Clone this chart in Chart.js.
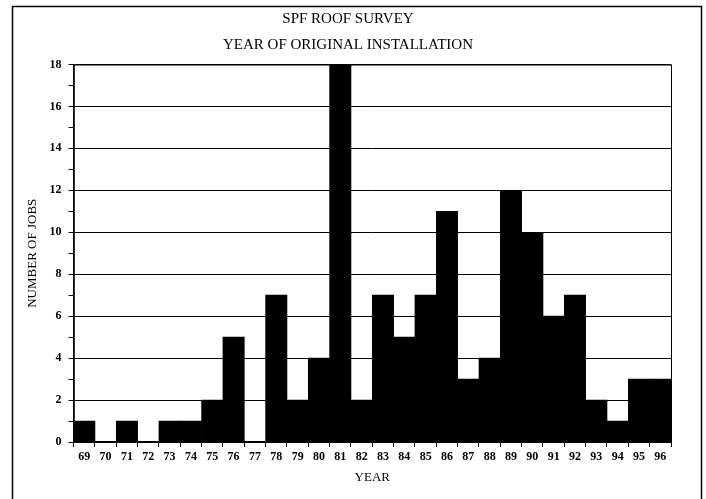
<!DOCTYPE html>
<html lang="en">
<head>
    <meta charset="UTF-8">
    <title>SPF Roof Survey</title>
    <script src="https://cdn.jsdelivr.net/npm/chart.js"></script>
    <style>
        html, body { margin: 0; padding: 0; background: #fff; }
        #wrap { width: 706px; height: 499px; position: relative; }
    </style>
</head>
<body>
    <div id="wrap"><canvas id="roofChart"></canvas></div>
    <script>
        // Survey data
        const years = ['69', '70', '71', '72', '73', '74', '75', '76', '77', '78', '79', '80', '81', '82',
                       '83', '84', '85', '86', '87', '88', '89', '90', '91', '92', '93', '94', '95', '96'];
        const jobs = [1, 0, 1, 0, 1, 1, 2, 5, 0, 7, 2, 4, 18, 2,
                      7, 5, 7, 11, 3, 4, 12, 10, 6, 7, 2, 1, 3, 3];
        const titleLines = ['SPF ROOF SURVEY', 'YEAR OF ORIGINAL INSTALLATION'];

        const serif = '"Liberation Serif", "DejaVu Serif", serif';

        // outer frame and plot box
        const framePlugin = {
            id: 'frame',
            afterDraw(chart) {
                const ctx = chart.ctx;
                const a = chart.chartArea;
                ctx.save();
                ctx.strokeStyle = '#000';
                ctx.lineWidth = 1.5;
                ctx.strokeRect(12.5, 6.5, 689, 520);
                ctx.lineWidth = 1;
                ctx.strokeRect(a.left + 0.5, a.top + 0.5, a.right - a.left, a.bottom - a.top);
                ctx.restore();
            }
        };

        new Chart(document.getElementById('roofChart'), {
            type: 'bar',
            data: {
                labels: years,
                datasets: [{
                    data: jobs,
                    backgroundColor: '#000',
                    borderWidth: 0,
                    barPercentage: 1,
                    categoryPercentage: 1
                }]
            },
            options: {
                responsive: true,
                maintainAspectRatio: false,
                animation: false,
                layout: { padding: { left: 25, right: 35, top: 6, bottom: 14 } },
                plugins: {
                    legend: { display: false },
                    tooltip: { enabled: false },
                    title: {
                        display: true,
                        text: titleLines,
                        color: '#000',
                        font: { family: serif, size: 15, weight: 'normal', lineHeight: 1.75 },
                        padding: { top: 0, bottom: 6 }
                    }
                },
                scales: {
                    x: {
                        grid: {
                            display: true,
                            drawOnChartArea: false,
                            drawTicks: true,
                            tickLength: 5,
                            color: '#000',
                            offset: true
                        },
                        border: { color: '#000', width: 1.5 },
                        ticks: {
                            color: '#000',
                            maxRotation: 0,
                            autoSkip: false,
                            padding: 3,
                            font: { family: serif, size: 12, weight: 'bold' }
                        },
                        title: {
                            display: true,
                            text: 'YEAR',
                            color: '#000',
                            padding: { top: 2, bottom: 0 },
                            font: { family: serif, size: 13, weight: 'normal' }
                        }
                    },
                    y: {
                        min: 0,
                        max: 18,
                        ticks: {
                            stepSize: 1,
                            color: '#000',
                            padding: 7,
                            font: { family: serif, size: 12, weight: 'bold' },
                            callback: v => (v % 2 ? '' : v)
                        },
                        grid: {
                            color: c => (c.tick && c.tick.value % 2 ? 'rgba(0,0,0,0)' : '#000'),
                            tickColor: '#000',
                            tickLength: 5,
                            lineWidth: 1
                        },
                        border: { color: '#000', width: 1.5 },
                        title: {
                            display: true,
                            text: 'NUMBER OF JOBS',
                            color: '#000',
                            padding: { top: 0, bottom: 2 },
                            font: { family: serif, size: 13, weight: 'normal' }
                        }
                    }
                }
            },
            plugins: [framePlugin]
        });
    </script>
</body>
</html>
